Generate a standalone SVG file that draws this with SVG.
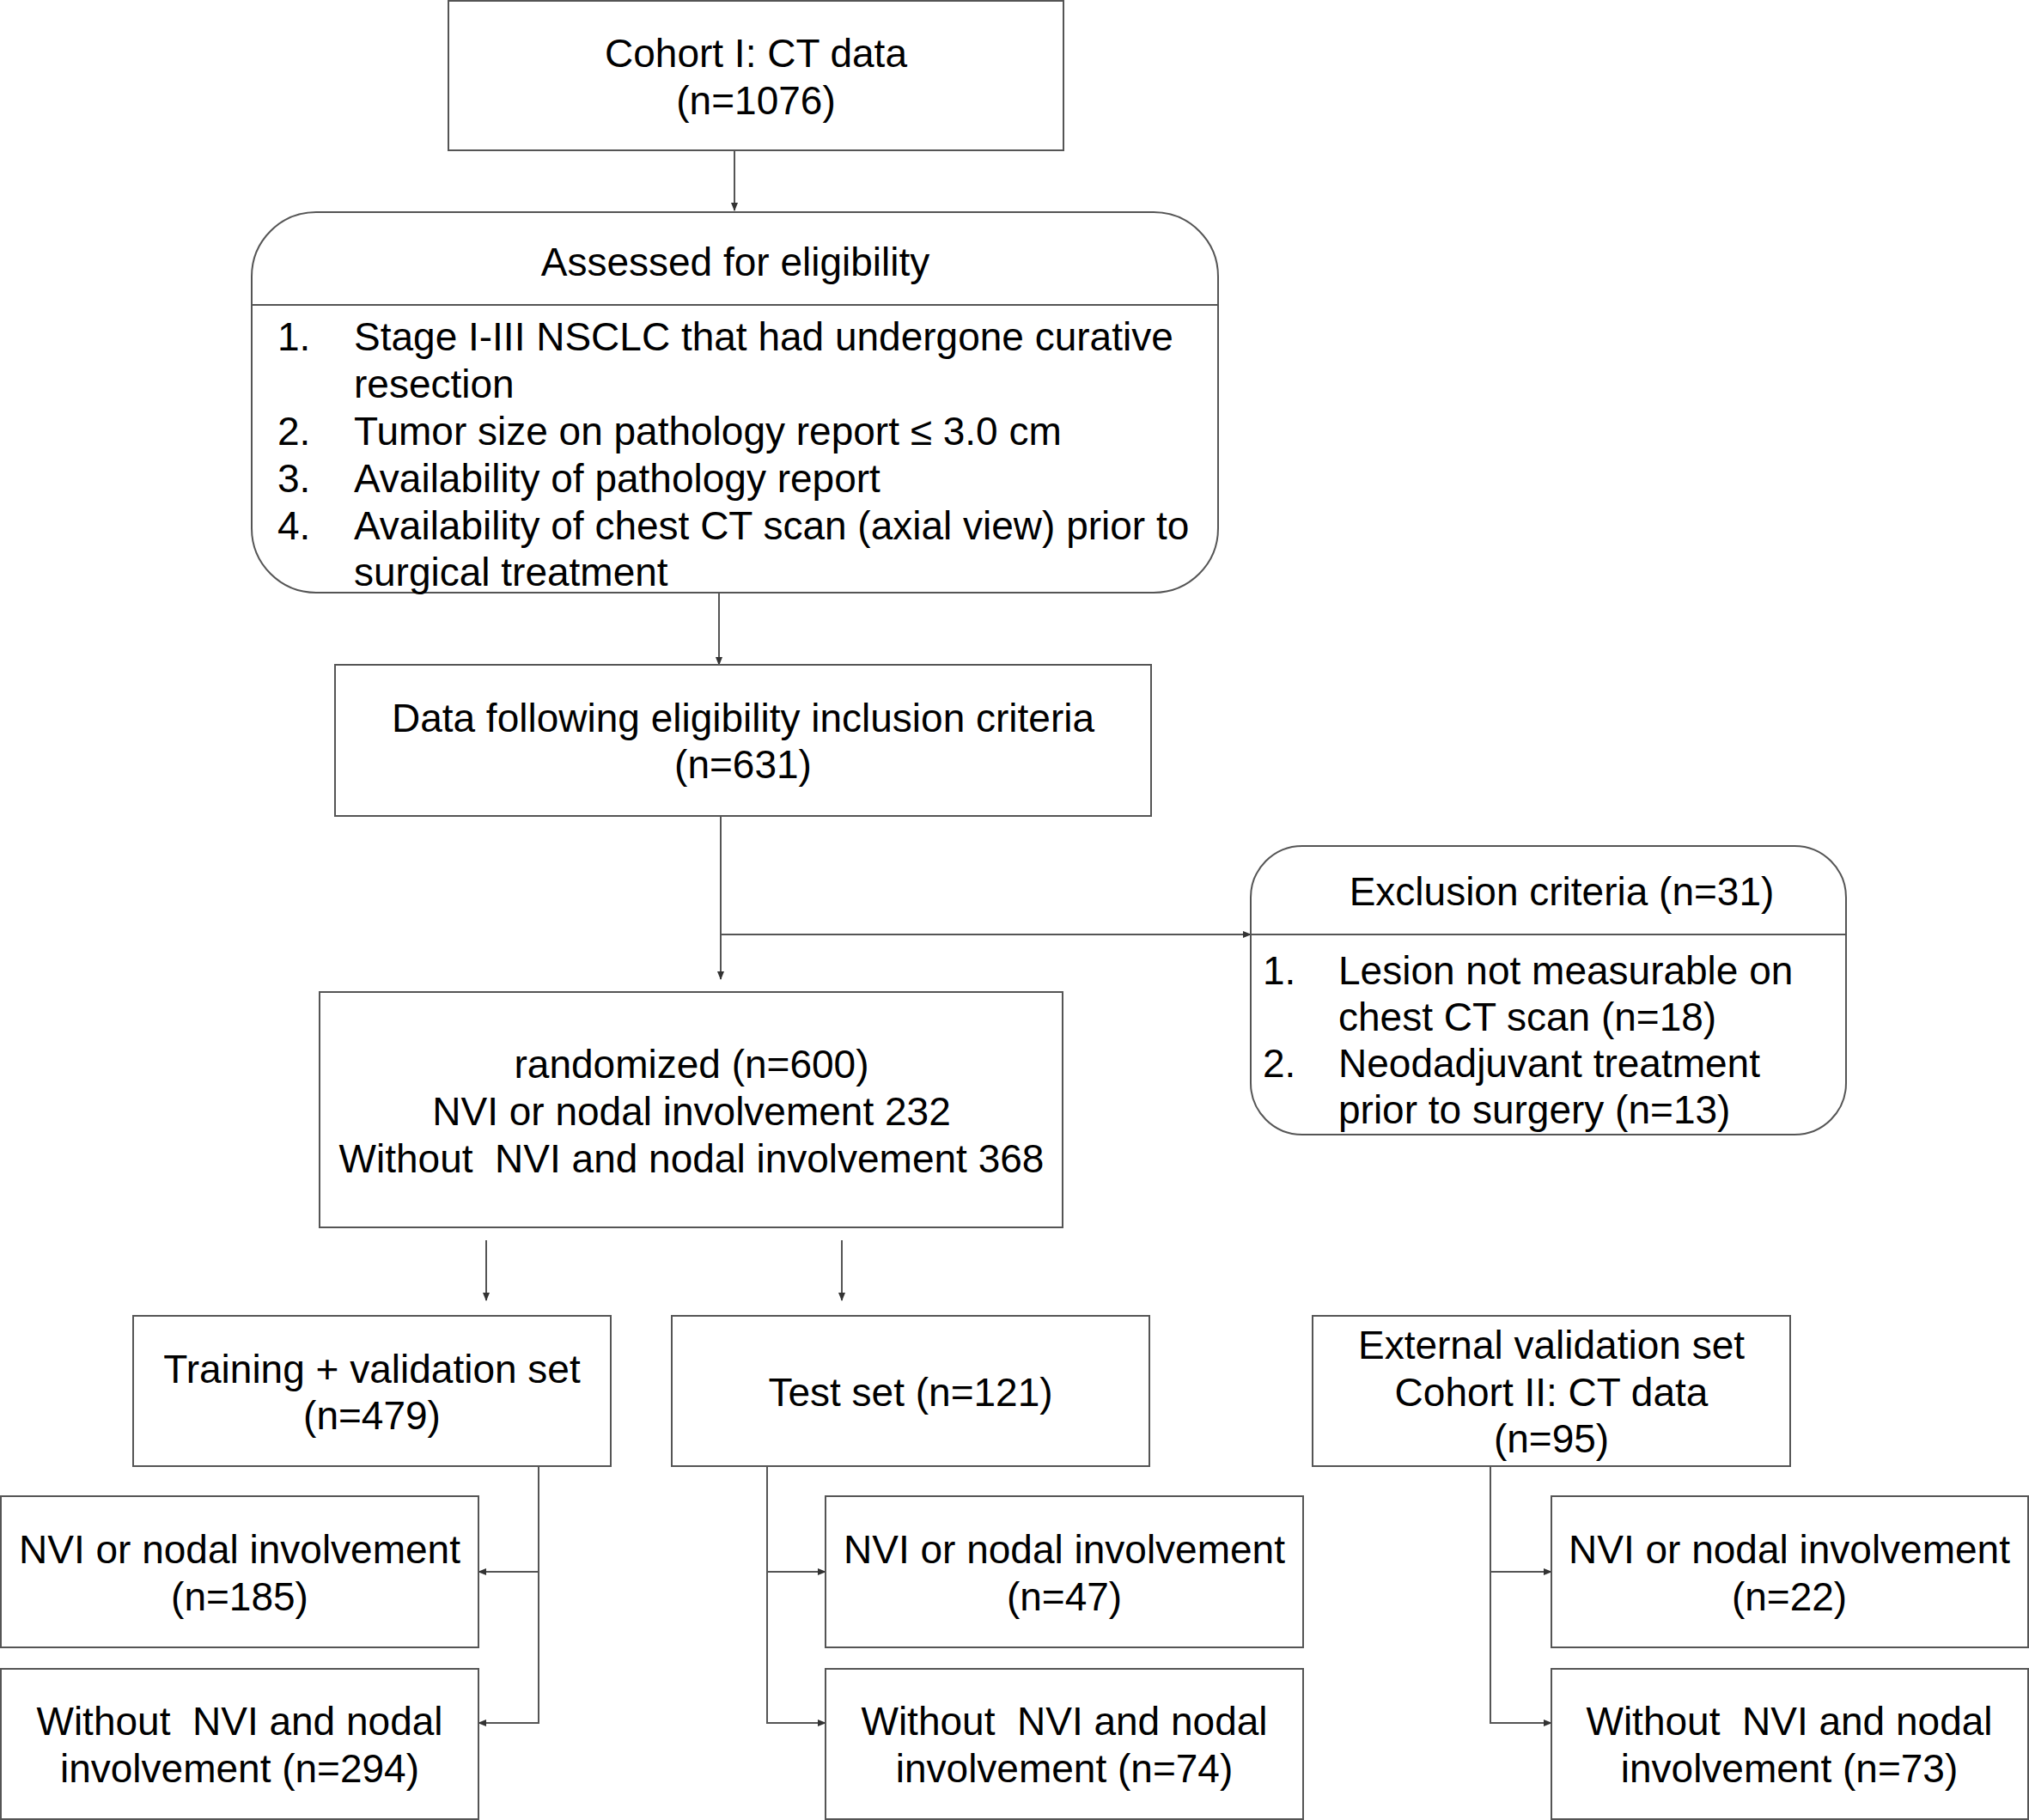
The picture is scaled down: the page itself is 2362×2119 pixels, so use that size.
<svg xmlns="http://www.w3.org/2000/svg" width="2362" height="2119" viewBox="0 0 2362 2119">
<defs>
<marker id="arr" markerWidth="10" markerHeight="8" refX="9" refY="4" orient="auto" markerUnits="userSpaceOnUse">
<path d="M0,0 L10,4 L0,8 Z" fill="#333"/>
</marker>
<style>
.box{fill:#fff;stroke:#555;stroke-width:2}
.ln{fill:none;stroke:#555;stroke-width:2}
.t{font-family:"Liberation Sans",Arial,Helvetica,sans-serif;font-size:46px;fill:#000;white-space:pre}
.c{text-anchor:middle}
</style>
</defs>
<rect width="2362" height="2119" fill="#fff"/>
<g id="connectors">
<line class="ln" x1="855" y1="175" x2="855" y2="245" marker-end="url(#arr)"/>
<line class="ln" x1="837" y1="690" x2="837" y2="774" marker-end="url(#arr)"/>
<line class="ln" x1="839" y1="950" x2="839" y2="1140" marker-end="url(#arr)"/>
<line class="ln" x1="839" y1="1088" x2="1456" y2="1088" marker-end="url(#arr)"/>
<line class="ln" x1="566" y1="1444" x2="566" y2="1514" marker-end="url(#arr)"/>
<line class="ln" x1="980" y1="1444" x2="980" y2="1514" marker-end="url(#arr)"/>
<polyline class="ln" points="627,1707 627,2006 557,2006" marker-end="url(#arr)"/>
<line class="ln" x1="627" y1="1830" x2="557" y2="1830" marker-end="url(#arr)"/>
<polyline class="ln" points="893,1707 893,2006 961,2006" marker-end="url(#arr)"/>
<line class="ln" x1="893" y1="1830" x2="961" y2="1830" marker-end="url(#arr)"/>
<polyline class="ln" points="1735,1707 1735,2006 1806,2006" marker-end="url(#arr)"/>
<line class="ln" x1="1735" y1="1830" x2="1806" y2="1830" marker-end="url(#arr)"/>
</g>
<g id="cohort1">
<rect class="box" x="522" y="1" width="716" height="174"/>
<text class="t c" x="880" y="78">Cohort I: CT data</text>
<text class="t c" x="880" y="133">(n=1076)</text>
</g>
<g id="eligibility">
<rect class="box" x="293" y="247" width="1125" height="443" rx="75" ry="75"/>
<line class="ln" x1="293" y1="355" x2="1418" y2="355"/>
<text class="t c" x="856" y="321">Assessed for eligibility</text>
<text class="t" x="323" y="408">1.</text>
<text class="t" x="412" y="408">Stage I-III NSCLC that had undergone curative</text>
<text class="t" x="412" y="463">resection</text>
<text class="t" x="323" y="518">2.</text>
<text class="t" x="412" y="518">Tumor size on pathology report ≤ 3.0 cm</text>
<text class="t" x="323" y="573">3.</text>
<text class="t" x="412" y="573">Availability of pathology report</text>
<text class="t" x="323" y="628">4.</text>
<text class="t" x="412" y="628">Availability of chest CT scan (axial view) prior to</text>
<text class="t" x="412" y="682">surgical treatment</text>
</g>
<g id="inclusion">
<rect class="box" x="390" y="774" width="950" height="176"/>
<text class="t c" x="865" y="852">Data following eligibility inclusion criteria</text>
<text class="t c" x="865" y="906">(n=631)</text>
</g>
<g id="exclusion">
<rect class="box" x="1456" y="985" width="693" height="336" rx="60" ry="60"/>
<line class="ln" x1="1456" y1="1088" x2="2149" y2="1088"/>
<text class="t c" x="1818" y="1054">Exclusion criteria (n=31)</text>
<text class="t" x="1470" y="1146">1.</text>
<text class="t" x="1558" y="1146">Lesion not measurable on</text>
<text class="t" x="1558" y="1200">chest CT scan (n=18)</text>
<text class="t" x="1470" y="1254">2.</text>
<text class="t" x="1558" y="1254">Neodadjuvant treatment</text>
<text class="t" x="1558" y="1308">prior to surgery (n=13)</text>
</g>
<g id="randomized">
<rect class="box" x="372" y="1155" width="865" height="274"/>
<text class="t c" x="805" y="1255">randomized (n=600)</text>
<text class="t c" x="805" y="1310">NVI or nodal involvement 232</text>
<text class="t c" x="805" y="1365">Without  NVI and nodal involvement 368</text>
</g>
<g id="training">
<rect class="box" x="155" y="1532" width="556" height="175"/>
<text class="t c" x="433" y="1610">Training + validation set</text>
<text class="t c" x="433" y="1664">(n=479)</text>
</g>
<g id="test">
<rect class="box" x="782" y="1532" width="556" height="175"/>
<text class="t c" x="1060" y="1637">Test set (n=121)</text>
</g>
<g id="external">
<rect class="box" x="1528" y="1532" width="556" height="175"/>
<text class="t c" x="1806" y="1582">External validation set</text>
<text class="t c" x="1806" y="1637">Cohort II: CT data</text>
<text class="t c" x="1806" y="1691">(n=95)</text>
</g>
<g id="train-nvi">
<rect class="box" x="1" y="1742" width="556" height="176"/>
<text class="t c" x="279" y="1820">NVI or nodal involvement</text>
<text class="t c" x="279" y="1875">(n=185)</text>
</g>
<g id="train-without">
<rect class="box" x="1" y="1943" width="556" height="175"/>
<text class="t c" x="279" y="2020">Without  NVI and nodal</text>
<text class="t c" x="279" y="2075">involvement (n=294)</text>
</g>
<g id="test-nvi">
<rect class="box" x="961" y="1742" width="556" height="176"/>
<text class="t c" x="1239" y="1820">NVI or nodal involvement</text>
<text class="t c" x="1239" y="1875">(n=47)</text>
</g>
<g id="test-without">
<rect class="box" x="961" y="1943" width="556" height="175"/>
<text class="t c" x="1239" y="2020">Without  NVI and nodal</text>
<text class="t c" x="1239" y="2075">involvement (n=74)</text>
</g>
<g id="ext-nvi">
<rect class="box" x="1806" y="1742" width="555" height="176"/>
<text class="t c" x="2083" y="1820">NVI or nodal involvement</text>
<text class="t c" x="2083" y="1875">(n=22)</text>
</g>
<g id="ext-without">
<rect class="box" x="1806" y="1943" width="555" height="175"/>
<text class="t c" x="2083" y="2020">Without  NVI and nodal</text>
<text class="t c" x="2083" y="2075">involvement (n=73)</text>
</g>
</svg>
